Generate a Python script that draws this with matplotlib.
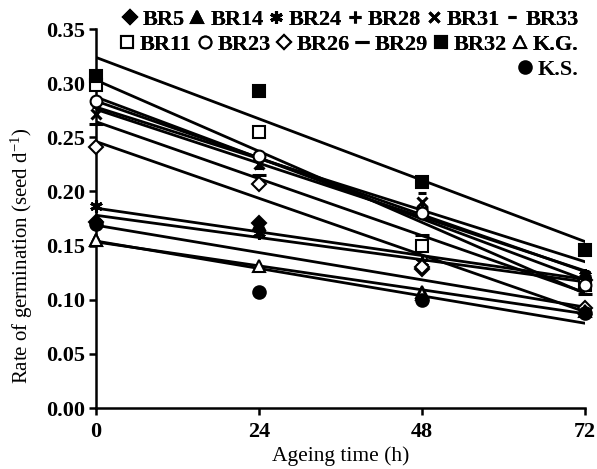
import numpy as np
import matplotlib
matplotlib.use('Agg')
import matplotlib.pyplot as plt

# Ageing time (h) and rate of germination (seed d-1) per genotype
hours = [0, 24, 48, 72]

br5 = [0.172, 0.171, 0.128, 0.118]
br14 = [0.155, 0.170, 0.107, 0.092]
br24 = [0.187, 0.162, 0.135, 0.123]
br28 = [0.282, 0.230, 0.185, 0.122]
br31 = [0.272, 0.225, 0.190, 0.118]
br33 = [0.278, 0.222, 0.199, 0.127]
br11 = [0.298, 0.255, 0.150, 0.114]
br23 = [0.284, 0.233, 0.180, 0.114]
br26 = [0.241, 0.207, 0.130, 0.092]
br29 = [0.262, 0.215, 0.160, 0.105]
br32 = [0.307, 0.293, 0.209, 0.146]
kg = [0.155, 0.131, 0.105, 0.090]
ks = [0.170, 0.107, 0.100, 0.088]

x_ticks = [0, 24, 48, 72]
y_ticks = [0.00, 0.05, 0.10, 0.15, 0.20, 0.25, 0.30, 0.35]

plt.rcParams['font.family'] = ['Liberation Serif', 'DejaVu Serif']
plt.rcParams['mathtext.fontset'] = 'custom'
plt.rcParams['mathtext.rm'] = 'Liberation Serif'
plt.rcParams['mathtext.it'] = 'Liberation Serif:italic'

K = 'black'
# name, data, marker, facecolor, size  (drawing order, later ones on top)
series = [
    ("BR14", br14, '^', K, 9),
    ("BR5", br5, 'D', K, 7.5),
    ("BR24", br24, (6, 2, 0), K, 9),
    ("BR28", br28, '+', K, 9),
    ("BR31", br31, 'x', K, 7),
    ("BR33", br33, '_', K, 6),
    ("BR11", br11, 's', 'white', 8.5),
    ("BR23", br23, 'o', 'white', 8.5),
    ("BR26", br26, 'D', 'white', 7.5),
    ("BR29", br29, '_', K, 10),
    ("BR32", br32, 's', K, 9),
    ("K.G.", kg, '^', 'white', 9),
    ("K.S.", ks, 'o', K, 9),
]

fig = plt.figure(figsize=(5.97, 4.69), dpi=100)
ax = fig.add_axes([0.161, 0.13, 0.819, 0.808])

xx = np.array([0, 72])
handles = {}
for name, vals, mk, fc, ms in series:
    slope, icpt = np.polyfit(hours, vals, 1)
    ax.plot(xx, icpt + slope * xx, color=K, lw=2.0, zorder=2)
    h, = ax.plot(hours, vals, ls='none', marker=mk, ms=ms, mfc=fc, mec=K,
                 mew=2.2 if mk in ['+', 'x', '_', (6, 2, 0)] else 1.5,
                 clip_on=False, zorder=3)
    handles[name] = h

ax.set_xlim(0, 72)
ax.set_ylim(0, 0.35)
ax.set_xticks(x_ticks)
ax.set_yticks(y_ticks)
ax.set_yticklabels([f"{v:.2f}" for v in y_ticks])
for lab in ax.get_xticklabels() + ax.get_yticklabels():
    lab.set_fontweight('bold')
    lab.set_fontsize(16)
ax.tick_params(width=1.8, length=5, direction='out')
ax.tick_params(axis='x', pad=5)
ax.tick_params(axis='y', pad=3)
for s in ['top', 'right']:
    ax.spines[s].set_visible(False)
for s in ['left', 'bottom']:
    ax.spines[s].set_linewidth(1.8)

ax.set_xlabel("Ageing time (h)", fontsize=15.5)
ax.xaxis.set_label_coords(0.5, -0.1)
ax.set_ylabel(r"Rate of germination (seed d$^{-1}$)", fontsize=15)
ax.yaxis.set_label_coords(-0.125, 0.40)

rows = [["BR5", "BR14", "BR24", "BR28", "BR31", "BR33"],
        ["BR11", "BR23", "BR26", "BR29", "BR32", "K.G."],
        ["K.S."]]
tops = [1.013, 0.960, 0.907]
for i, (row, top) in enumerate(zip(rows, tops)):
    leg = fig.legend([handles[n] for n in row], row, ncol=len(row),
                     loc='upper right', bbox_to_anchor=(0.995, top),
                     frameon=False, handlelength=0.55, handletextpad=0.3,
                     columnspacing=0.3, borderpad=0.2,
                     prop={'weight': 'bold', 'size': 16})
    if i < len(rows) - 1:
        fig.add_artist(leg)

fig.savefig("out.png", dpi=100)
